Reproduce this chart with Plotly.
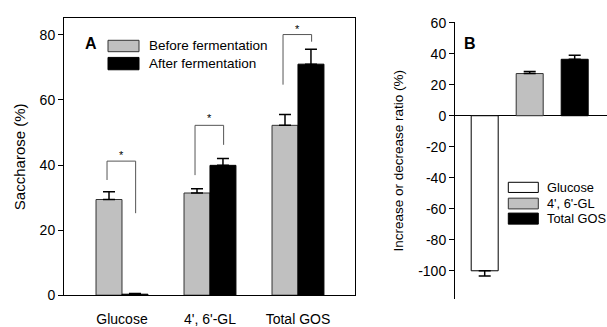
import plotly.graph_objects as go

# ---------------- data ----------------
categories = ["Glucose", "4', 6'-GL", "Total GOS"]
before_vals = [29.4, 31.4, 52.2]
before_err = [2.4, 1.3, 3.3]
after_vals = [0.3, 39.9, 71.0]
after_err = [0.2, 2.1, 4.6]

change_vals = [-100.0, 27.2, 36.4]
change_err_plus = [0.0, 1.4, 2.6]
change_err_minus = [3.3, 0.0, 0.0]

bracket_top = [41.2, 52.2, 80.1]
bracket_left_bottom = [35.4, 36.9, 64.7]
bracket_right_bottom = [25.2, 46.2, 77.9]
star_y = [43.0, 54.5, 81.7]

ticks_a = [0, 20, 40, 60, 80]
ticks_b = [-100, -80, -60, -40, -20, 0, 20, 40, 60]
ticklabels_b = ["-100", "-80", "-60", "-40", "-20", "0", "20", "40", "60"]

legend_a = ["Before fermentation", "After fermentation"]
legend_b = ["Glucose", "4', 6'-GL", "Total GOS"]

W, H = 607, 327
FONT = "Arial, Liberation Sans, sans-serif"
GRAY = "#c0c0c0"
EDGE = "#333333"

def px(x):
    return x / W

def py(y):
    return 1 - y / H

fig = go.Figure()

fig.add_trace(go.Bar(
    x=categories, y=before_vals, name=legend_a[0],
    marker=dict(color=GRAY, line=dict(color=EDGE, width=1)),
    error_y=dict(type="data", symmetric=False, array=before_err,
                 arrayminus=[0] * 3, color="black", thickness=1.5, width=6),
    xaxis="x", yaxis="y", showlegend=False))
fig.add_trace(go.Bar(
    x=categories, y=after_vals, name=legend_a[1],
    marker=dict(color="black", line=dict(color="black", width=1)),
    error_y=dict(type="data", symmetric=False, array=after_err,
                 arrayminus=[0] * 3, color="black", thickness=1.5, width=6),
    xaxis="x", yaxis="y", showlegend=False))

fig.add_trace(go.Bar(
    x=categories, y=change_vals, width=0.6,
    marker=dict(color=["white", GRAY, "black"],
                line=dict(color=["black", EDGE, "black"], width=1)),
    error_y=dict(type="data", symmetric=False, array=change_err_plus,
                 arrayminus=change_err_minus, color="black", thickness=1.5, width=6),
    xaxis="x2", yaxis="y2", showlegend=False))

shapes = []
annotations = []
# significance brackets
for i in range(3):
    xl = i - 0.17
    xr = i + 0.155
    path = (f"M {xl} {bracket_left_bottom[i]} L {xl} {bracket_top[i]} "
            f"L {xr} {bracket_top[i]} L {xr} {bracket_right_bottom[i]}")
    shapes.append(dict(type="path", path=path, xref="x", yref="y",
                       line=dict(color="#555555", width=1)))
    annotations.append(dict(x=i - 0.01, y=star_y[i], xref="x", yref="y", text="*",
                            showarrow=False, font=dict(family=FONT, size=11, color="black")))

# legend A
leg_a_rows = [(35, 47, GRAY, EDGE), (53, 66, "black", "black")]
for (y0, y1, fc, lc), label in zip(leg_a_rows, legend_a):
    shapes.append(dict(type="rect", xref="paper", yref="paper",
                       x0=px(108), x1=px(139), y0=py(y1), y1=py(y0),
                       fillcolor=fc, line=dict(color=lc, width=1)))
    annotations.append(dict(x=px(147), y=py((y0 + y1) / 2), xref="paper", yref="paper",
                            text=label, showarrow=False, xanchor="left", yanchor="middle",
                            font=dict(family=FONT, size=13.5, color="black")))

# legend B
leg_b_rows = [(184.3, 195, "white", "black"), (201, 212.3, GRAY, EDGE), (216.7, 228.3, "black", "black")]
for (y0, y1, fc, lc), label in zip(leg_b_rows, legend_b):
    shapes.append(dict(type="rect", xref="paper", yref="paper",
                       x0=px(508.3), x1=px(538.3), y0=py(y1), y1=py(y0),
                       fillcolor=fc, line=dict(color=lc, width=1)))
    annotations.append(dict(x=px(545), y=py((y0 + y1) / 2), xref="paper", yref="paper",
                            text=label, showarrow=False, xanchor="left", yanchor="middle",
                            font=dict(family=FONT, size=12.8, color="black")))

# panel labels
annotations.append(dict(x=px(83), y=py(27.5), xref="paper", yref="paper", text="<b>A</b>",
                        showarrow=False, font=dict(family=FONT, size=16, color="black")))
annotations.append(dict(x=px(477.5), y=py(27), xref="paper", yref="paper", text="<b>B</b>",
                        showarrow=False, font=dict(family=FONT, size=16, color="black")))

tick_font = dict(family=FONT, size=14, color="black")

fig.update_layout(
    width=W, height=H,
    margin=dict(l=0, r=0, t=0, b=0),
    paper_bgcolor="white", plot_bgcolor="white",
    barmode="group", bargap=0.41, bargroupgap=0,
    font=dict(family=FONT, color="black"),
    xaxis=dict(domain=[px(64), px(355)], range=[-0.659, 2.648],
               showline=True, mirror=True, linecolor="black", linewidth=1,
               ticks="outside", ticklen=11, tickcolor="rgba(0,0,0,0)",
               showgrid=False, zeroline=False, tickfont=tick_font, anchor="y"),
    yaxis=dict(domain=[py(303), py(12)], range=[0, 85.06],
               showline=True, mirror=True, linecolor="black", linewidth=1,
               ticks="outside", ticklen=5, tickcolor="black", tickvals=ticks_a,
               showgrid=False, zeroline=False, tickfont=tick_font, anchor="x",
               title=dict(text="Saccharose (%)", font=dict(family=FONT, size=15, color="black"),
                          standoff=10)),
    xaxis2=dict(domain=[px(455), 1.0], range=[-0.66, 2.718], visible=False, anchor="y2"),
    yaxis2=dict(domain=[py(307.5), py(15.7)], range=[-118.5, 60.5],
                showline=True, linecolor="black", linewidth=1,
                ticks="outside", ticklen=5, tickcolor="black",
                tickvals=ticks_b, ticktext=ticklabels_b,
                showgrid=False, zeroline=True, zerolinecolor="black", zerolinewidth=1,
                tickfont=tick_font, anchor="x2",
                title=dict(text="Increase or decrease ratio (%)",
                           font=dict(family=FONT, size=13.5, color="black"), standoff=11)),
    shapes=shapes,
    annotations=annotations,
)

fig.write_html("out.html")
